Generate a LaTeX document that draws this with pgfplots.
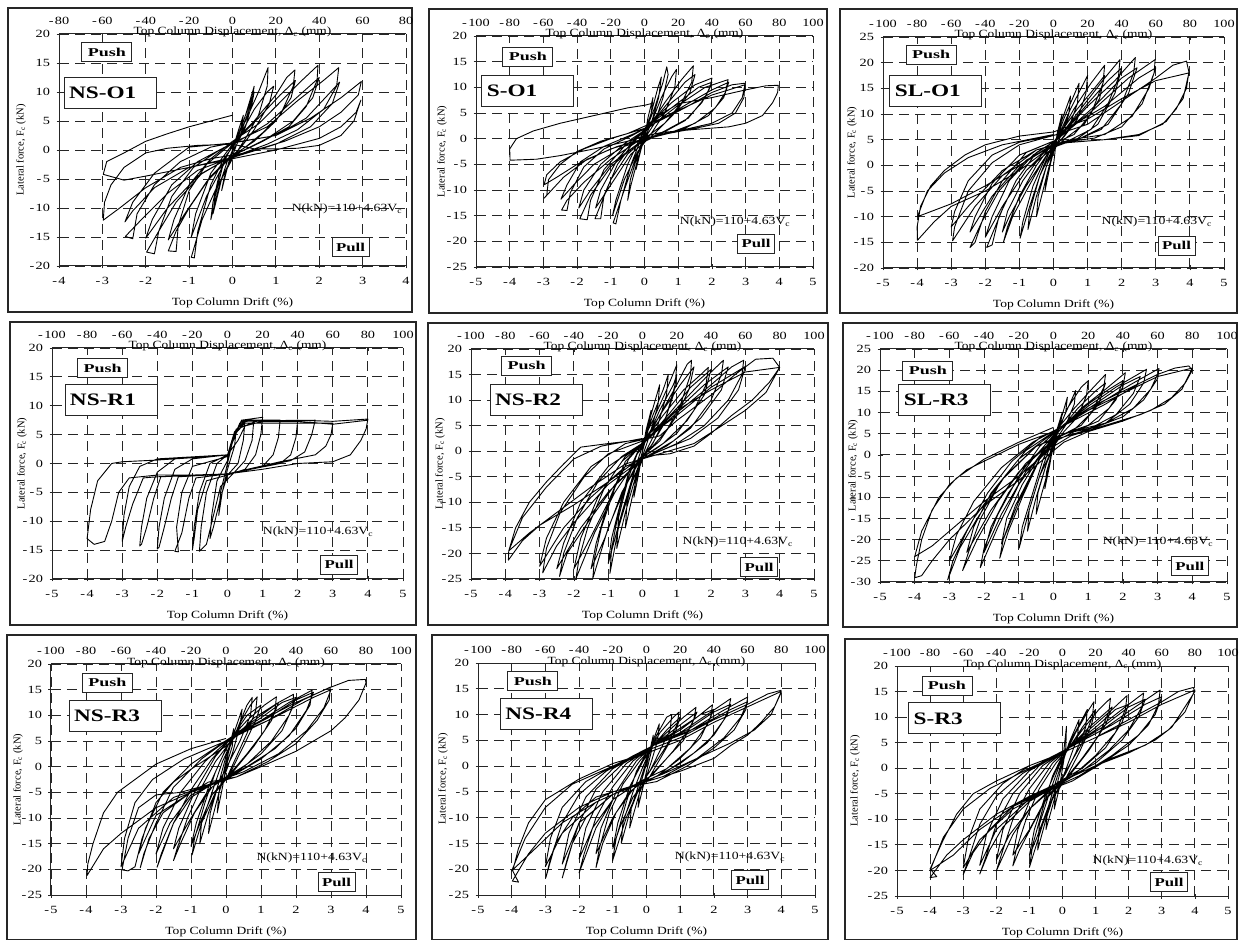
\documentclass[border=0pt]{standalone}
\usepackage{pgfplots}
\pgfplotsset{compat=1.18}
\usepackage{fontspec}
\setmainfont{Liberation Serif}
\newfontfamily\tickfont[FakeStretch=1.3]{Liberation Serif}
\usepackage{graphicx}
\newcommand\m{-\hspace{1.4pt}}
\newcommand\hs[2]{\scalebox{#1}[1]{#2}}
\pgfplotsset{
 mainax/.style={scale only axis, enlargelimits=false, anchor=south west,
   axis x line*=bottom, axis y line*=left,
   axis line style={-, line width=1pt, black!85},
   grid=major, major grid style={black!85, line width=0.9pt, dash pattern=on 10pt off 6pt},
   tick align=center, major tick length=5pt, tick style={black!85, line width=0.8pt},
   tick label style={font=\tickfont\fontsize{11}{12}\selectfont},
   xticklabel style={yshift=-5pt}, yticklabel style={xshift=-3pt},
   every axis plot post/.append style={black, line width=0.9pt, mark=none, line join=round}},
 topax/.style={scale only axis, enlargelimits=false, clip=false, anchor=south west,
   axis x line*=top, axis y line=none, ymin=0, ymax=1,
   axis line style={-, line width=1pt, black!85},
   tick align=inside, major tick length=3pt, tick style={black!85, line width=0.8pt},
   tick label style={font=\tickfont\fontsize{11}{12}\selectfont},
   xticklabel style={yshift=6pt}},
 xA/.style={xtick={-4,-3,...,4}, xticklabels={\m4,\m3,\m2,\m1,0,1,2,3,4}},
 xB/.style={xtick={-5,-4,...,5}, xticklabels={\m5,\m4,\m3,\m2,\m1,0,1,2,3,4,5}},
 tA/.style={xtick={-80,-60,...,80}, xticklabels={\m80,\m60,\m40,\m20,0,20,40,60,80}},
 tB/.style={xtick={-100,-80,...,100}, xticklabels={\m100,\m80,\m60,\m40,\m20,0,20,40,60,80,100}},
 yP/.style={ytick={-20,-15,...,20}, yticklabels={\m20,\m15,\m10,\m5,0,5,10,15,20}},
 yQ/.style={ytick={-25,-20,...,20}, yticklabels={\m25,\m20,\m15,\m10,\m5,0,5,10,15,20}},
 yR/.style={ytick={-20,-15,...,25}, yticklabels={\m20,\m15,\m10,\m5,0,5,10,15,20,25}},
 yS/.style={ytick={-30,-25,...,25}, yticklabels={\m30,\m25,\m20,\m15,\m10,\m5,0,5,10,15,20,25}},
}
\tikzset{
 pushbox/.style={draw=black!85, line width=0.9pt, fill=white, minimum width=50pt, minimum height=19pt, inner sep=0pt},
 pullbox/.style={draw=black!85, line width=0.9pt, fill=white, minimum width=37pt, minimum height=19pt, inner sep=0pt},
 namebox/.style={draw=black!85, line width=0.9pt, fill=white, minimum width=92pt, minimum height=31pt, inner sep=0pt},
 frame/.style={draw=black!85, line width=1.2pt},
}
\newcommand\deco[6]{%
 \node[pushbox] at (rel axis cs:#1) {\hs{1.5}{\fontsize{12}{13}\selectfont\bfseries Push}};
 \node[namebox] at (rel axis cs:#2) {\makebox[82pt][l]{\hs{1.33}{\fontsize{17.5}{18}\selectfont\bfseries #5}}};
 \node at (rel axis cs:#3) {\hs{1.25}{\fontsize{11}{12}\selectfont N(kN)=110+4.63V\textsubscript{c}}};
 \node[pullbox] at (rel axis cs:#4) {\hs{1.4}{\fontsize{12}{13}\selectfont\bfseries Pull}};
 \node[anchor=base] at ([yshift=-1pt]rel axis cs:0.5,1) {\hs{1.22}{\fontsize{11}{12}\selectfont Top Column Displacement, Δ\textsubscript{c} (mm)}};
 \node at ([yshift=-37pt]rel axis cs:0.5,0) {\hs{1.23}{\fontsize{11}{12}\selectfont Top Column Drift (\%)}};
 \node[rotate=90] at ([xshift=-#6pt]rel axis cs:0,0.5) {\fontsize{10.5}{11}\selectfont Lateral force, F\textsubscript{c} (kN)};
}
\begin{document}
\begin{tikzpicture}[x=1pt,y=1pt]
\path[use as bounding box] (0,0) rectangle (1239,940);
\draw[frame] (8,628) rectangle (412,932);
\draw[frame] (429,627) rectangle (827,931);
\draw[frame] (840,627) rectangle (1237,931);
\draw[frame] (10,315) rectangle (416,618);
\draw[frame] (428,315) rectangle (828,617);
\draw[frame] (843,313) rectangle (1237,617);
\draw[frame] (7,0.6) rectangle (416,305);
\draw[frame] (432,0.6) rectangle (828,305);
\draw[frame] (845,0.6) rectangle (1237,301);

% ---------- Panel 1: NS-O1 ----------
\begin{axis}[mainax, at={(59pt,674pt)}, width=347pt, height=232pt, xmin=-4, xmax=4, ymin=-20, ymax=20, xA, yP]
\addplot coordinates {(0,0) (0.12,3) (0.25,6) (0.2,4) (0.05,1) (-0.05,-1) (-0.15,-4) (-0.25,-7) (-0.2,-5) (-0.05,-1.5) (0.05,1)
(0.25,5) (0.5,10) (0.45,8) (0.3,4) (0.1,1) (-0.1,-1.5) (-0.3,-6) (-0.5,-12) (-0.45,-9) (-0.3,-4) (-0.1,-0.5) (0.1,1.5)
(0.3,6) (0.5,11) (0.45,8.5) (0.2,3) (0,-1) (-0.25,-5) (-0.45,-11) (-0.4,-8) (-0.2,-2) (0.05,1.5)
(0.3,5) (0.6,10) (0.82,14.2) (0.8,11) (0.6,6) (0.3,2) (0,-1.5) (-0.4,-7) (-0.7,-12) (-0.95,-18.5) (-0.88,-18.6) (-0.8,-14) (-0.5,-6) (-0.2,-1.5) (0.1,1.5)
(0.5,7) (0.8,10) (0.95,11) (0.85,8) (0.5,3.5) (0.2,0.5) (-0.2,-2.5) (-0.6,-8) (-0.95,-15) (-0.85,-11) (-0.5,-4) (-0.2,-1) (0.1,2)
(0.5,5) (1,9.5) (1.25,12.5) (1.44,13.8) (1.4,11) (1.1,6) (0.7,3) (0.3,0.5) (-0.1,-1.5) (-0.5,-4.5) (-1,-10) (-1.3,-14) (-1.48,-17.4) (-1.3,-17.5) (-1.25,-13) (-1,-7) (-0.6,-2.5) (-0.2,0) (0.1,1.8)
(0.6,5.5) (1.1,9.5) (1.45,12) (1.35,9) (1,5) (0.5,1.5) (0,-1) (-0.6,-5.5) (-1.1,-11) (-1.48,-15.5) (-1.35,-12) (-1,-6) (-0.5,-1.5) (0,1.5)
(0.6,4.5) (1.2,9) (1.6,12) (1.97,14.6) (1.95,12) (1.7,7.5) (1.3,4) (0.7,1.5) (0,-1) (-0.7,-4) (-1.3,-9) (-1.7,-14) (-1.98,-17.6) (-1.8,-17.9) (-1.7,-14) (-1.4,-8) (-0.9,-3) (-0.3,0) (0.2,1.8)
(0.8,4.5) (1.4,8.5) (2,12.5) (1.85,9) (1.4,5) (0.8,2) (0,-1) (-0.8,-4.5) (-1.5,-10) (-2,-15.2) (-1.85,-12) (-1.4,-6) (-0.8,-2) (0,1.2)
(0.8,4) (1.5,8.5) (2.1,12) (2.45,14.2) (2.4,11) (2.1,7) (1.5,3.5) (0.8,1) (0,-1.2) (-0.8,-3.5) (-1.5,-7.5) (-2.1,-12) (-2.47,-14.9) (-2.3,-15.3) (-2.2,-11) (-1.8,-6) (-1.2,-2) (-0.5,0.5) (0.2,1.5)
(1,2.5) (1.7,5.5) (2.2,9.5) (2.47,11.7) (2.3,8) (1.8,4) (1,1) (0,-1.3) (-1,-3) (-1.8,-6.5) (-2.3,-10.5) (-2.48,-12.4) (-2.3,-9) (-1.8,-4) (-1,0.5) (0,1.2)
(1,2.5) (1.8,5.5) (2.5,9) (2.97,11.8) (2.9,9.5) (2.5,6.5) (2,4) (1.2,1.5) (0.3,-0.5) (-0.5,-1.5) (-1.2,-3) (-2,-6.5) (-2.6,-10) (-2.98,-12.1) (-2.95,-9) (-2.8,-6) (-2.5,-3) (-2,-0.5) (-1.5,0.3) (-0.8,0.8) (0,1)
(0.5,0.2) (1,0.2) (1.5,0.3) (2,0.8) (2.5,2.5) (2.8,5) (2.96,8.6) (2.85,6.5) (2.5,4) (2,2) (1,0) (0,-1.5) (-1,-3) (-2,-4.5) (-2.5,-5.2) (-2.98,-4.2) (-2.9,-2) (-2.5,-0.5) (-2,1.5) (-1.5,2.8) (-1,4) (-0.5,5) (0,6)};
\end{axis}
\begin{axis}[topax, at={(59pt,674pt)}, width=347pt, height=232pt, xmin=-80, xmax=80, tA]
\deco{0.138,0.922}{0.147,0.748}{0.83,0.246}{0.84,0.082}{NS-O1}{38}
\end{axis}

% ---------- Panel 2: S-O1 ----------
\begin{axis}[mainax, at={(476pt,673pt)}, width=337pt, height=231pt, xmin=-5, xmax=5, ymin=-25, ymax=20, xB, yQ]
\addplot coordinates {(0,0) (0.1,4) (0.25,8) (0.2,5) (0.05,1.5) (-0.1,-2) (-0.25,-6) (-0.2,-3) (0,1)
(0.2,5) (0.4,10) (0.5,12) (0.42,8) (0.2,3) (0,0) (-0.2,-4) (-0.4,-9) (-0.5,-12) (-0.42,-8) (-0.2,-3) (0,1)
(0.3,6) (0.55,11) (0.66,14) (0.7,12.5) (0.55,8) (0.3,3) (0,0) (-0.3,-4.5) (-0.6,-10) (-0.93,-16.4) (-0.85,-16.6) (-0.7,-12) (-0.4,-5) (-0.1,0) (0.2,3)
(0.5,8) (0.8,12) (0.95,13.5) (0.9,10) (0.6,5) (0.2,1) (-0.2,-2.5) (-0.6,-8) (-0.95,-15) (-0.85,-12) (-0.5,-5) (-0.1,0.5) (0.2,3)
(0.6,7) (1.1,11.5) (1.45,14.2) (1.4,11) (1.1,7) (0.6,3) (0.1,0.5) (-0.5,-3) (-1,-8) (-1.47,-15.6) (-1.3,-15.6) (-1.2,-11) (-0.8,-5) (-0.3,-0.5) (0.2,3)
(0.7,7) (1.2,11) (1.5,12.5) (1.35,9) (0.9,5) (0.3,1) (-0.4,-3) (-1,-9) (-1.45,-13.5) (-1.3,-10) (-0.8,-4) (-0.2,0.5) (0.2,3)
(0.8,7) (1.5,10.5) (2,11.8) (1.95,10) (1.7,7) (1.2,3.5) (0.5,1) (-0.3,-1.5) (-1,-5.5) (-1.6,-11) (-1.92,-15.6) (-1.7,-15.8) (-1.6,-12) (-1.2,-6) (-0.6,-1.5) (0,1.5) (0.3,3.5)
(1,7) (1.6,10) (2,11) (1.8,8) (1.3,4) (0.6,1.5) (-0.2,-1) (-1,-5) (-1.6,-10) (-1.95,-13.5) (-1.8,-10) (-1.3,-5) (-0.6,-1) (0.2,2.5)
(1,6.5) (1.8,10) (2.48,11.5) (2.4,9) (2.1,6) (1.5,3) (0.7,1) (-0.2,-0.5) (-1,-4) (-1.8,-8.5) (-2.3,-12) (-2.46,-13.9) (-2.3,-14) (-2.2,-10.5) (-1.8,-5.5) (-1.2,-2) (-0.4,0.5) (0.3,3)
(1.2,6.5) (2,9.5) (2.5,11) (2.35,8) (1.9,4.5) (1.2,2) (0.3,0.5) (-0.6,-1.5) (-1.5,-5) (-2.1,-9) (-2.48,-11.8) (-2.3,-9) (-1.9,-4.5) (-1.2,-1.5) (-0.3,1) (0.3,3)
(1.2,6) (2,9) (2.6,10.5) (2.98,10.8) (2.95,8) (2.7,5) (2.2,3) (1.5,2) (0.7,1) (0,0) (-0.8,-1.5) (-1.7,-4) (-2.4,-7.5) (-2.98,-11.6) (-2.9,-11) (-2.85,-8) (-2.5,-5) (-2,-2.5) (-1.3,-0.5) (-0.5,1) (0.2,3)
(1,5.5) (2,8.5) (2.5,9.5) (2.98,10.5) (2.9,8) (2.6,5) (2,3) (1,1.5) (0,0) (-1,-2) (-2,-5) (-2.6,-7.5) (-2.98,-9) (-2.9,-7) (-2.5,-4.5) (-1.8,-2) (-1,0) (0,2) (0.3,4)
(1,6.8) (2,8) (3,9.5) (3.6,10.3) (3.97,10.4) (3.95,9) (3.8,7) (3.5,4.5) (3,3) (2.5,2.3) (1.5,1.8) (0.5,1.2) (0,0.5) (-0.5,-0.5) (-1.5,-2) (-2.5,-3.3) (-3.2,-4) (-3.99,-4.2) (-4,-2) (-3.8,0) (-3.3,1.5) (-2.5,3) (-1.5,4.5) (-0.5,6) (0,6.5) (0.3,7)};
\end{axis}
\begin{axis}[topax, at={(476pt,673pt)}, width=337pt, height=231pt, xmin=-100, xmax=100, tB]
\deco{0.154,0.911}{0.154,0.764}{0.769,0.195}{0.831,0.10}{S-O1}{34}
\end{axis}

% ---------- Panel 3: SL-O1 ----------
\begin{axis}[mainax, at={(883pt,672pt)}, width=341pt, height=231pt, xmin=-5, xmax=5, ymin=-20, ymax=25, xB, yR]
\addplot coordinates {(0,0) (0.1,6) (0.25,10) (0.2,7) (0.05,4) (-0.1,0) (-0.25,-5) (-0.2,-2) (0,3)
(0.2,8) (0.5,13.5) (0.45,10) (0.2,5.5) (0,3) (-0.2,-2) (-0.5,-10) (-0.45,-6) (-0.2,0) (0,3.5)
(0.3,9) (0.75,16) (0.7,12) (0.4,6.5) (0.1,4) (-0.2,0) (-0.5,-6) (-0.75,-12.5) (-0.7,-9) (-0.4,-2) (-0.1,3) (0.1,5)
(0.5,11) (1,17.5) (0.95,14) (0.7,9) (0.3,5.5) (0,3.5) (-0.4,-2) (-0.7,-8) (-0.98,-14.2) (-0.9,-11) (-0.6,-4) (-0.2,2) (0.1,5)
(0.6,11) (1.1,16) (1.5,19.5) (1.45,16) (1.1,10) (0.6,6) (0.1,4.5) (-0.3,1) (-0.8,-5) (-1.2,-10) (-1.47,-15) (-1.35,-12) (-1,-6) (-0.5,0) (0,4.5)
(0.7,11) (1.2,15) (1.5,17.5) (1.35,13) (0.9,8) (0.4,5.5) (-0.2,2) (-0.8,-4) (-1.3,-10) (-1.5,-13) (-1.35,-9) (-0.9,-3) (-0.3,2.5) (0.1,5)
(0.8,11) (1.5,17) (1.95,20.6) (1.9,17) (1.6,12) (1.1,7) (0.5,5) (-0.2,3) (-0.8,-1) (-1.4,-7) (-1.96,-16) (-1.8,-15.5) (-1.6,-10) (-1.1,-3) (-0.5,2.5) (0.1,5)
(1,12) (1.6,16.5) (2,19) (1.8,14) (1.3,8) (0.7,5.2) (0,3.5) (-0.8,-1) (-1.5,-8) (-2,-14) (-1.8,-10) (-1.3,-3) (-0.6,2) (0.1,5)
(1,11.5) (1.8,16.5) (2.4,21) (2.35,18) (2,12) (1.4,7) (0.7,5) (0,4) (-0.8,1) (-1.6,-5) (-2.1,-11) (-2.45,-16) (-2.3,-15) (-2,-9) (-1.5,-3) (-0.8,2.5) (0.1,5)
(1.2,11.5) (2,17) (2.45,19) (2.2,14) (1.6,8) (0.8,5.3) (0,4) (-1,0) (-1.8,-6) (-2.45,-13) (-2.3,-10) (-1.8,-3.5) (-1,2) (0.1,5)
(1.2,11) (2.2,17) (2.98,20.6) (2.95,18) (2.6,12) (2,7.5) (1.2,5.3) (0.3,4.5) (-0.5,3) (-1.5,-2) (-2.3,-8) (-2.96,-14.7) (-2.9,-12) (-2.5,-5) (-1.8,0.5) (-1,4) (0.1,6)
(1.5,11.5) (2.5,17) (3,19) (2.8,15) (2.3,9.5) (1.5,6) (0.5,5) (-0.5,3) (-1.5,-1) (-2.5,-8) (-3,-12) (-2.9,-9) (-2.5,-3) (-1.8,2) (-1,4.5) (0.1,6)
(1,8) (2,12.5) (3,17) (3.5,19.5) (3.9,20.3) (3.97,18.2) (3.9,15) (3.6,11) (3.2,8) (2.5,6) (1.5,5) (0.5,4.5) (0,4) (-1,-1) (-2,-5) (-3,-8) (-3.5,-11) (-3.99,-14.6) (-4,-12) (-3.9,-8) (-3.6,-4) (-3.2,-1) (-2.6,2) (-2,4) (-1,5.7) (0,6.5)
(1,9) (2,13) (3,16.5) (3.97,18) (3.8,13) (3.3,8.5) (2.5,5.8) (1.5,5) (0,4.2) (-1,0) (-2,-4) (-3,-7.5) (-3.99,-10) (-3.7,-5) (-3.2,-1.5) (-2.5,1.5) (-1.5,4) (0,6)};
\end{axis}
\begin{axis}[topax, at={(883pt,672pt)}, width=341pt, height=231pt, xmin=-100, xmax=100, tB]
\deco{0.141,0.923}{0.155,0.768}{0.803,0.199}{0.861,0.097}{SL-O1}{31}
\end{axis}

% ---------- Panel 4: NS-R1 ----------
\begin{axis}[mainax, at={(52pt,361pt)}, width=351pt, height=231pt, xmin=-5, xmax=5, ymin=-20, ymax=20, xB, yP]
\addplot coordinates {(0,0) (0.1,3) (0.25,6) (0.2,3) (0,-1) (-0.15,-5) (-0.25,-9) (-0.2,-5) (0,0)
(0.15,4) (0.35,7) (0.5,7.5) (0.45,4) (0.3,0) (0,-2) (-0.2,-6) (-0.4,-11) (-0.5,-13) (-0.45,-9) (-0.3,-3) (0,0.5)
(0.2,5) (0.4,7.3) (0.75,7.5) (0.7,4) (0.5,0.5) (0.2,-1.5) (-0.2,-4) (-0.4,-9) (-0.6,-14) (-0.8,-15.2) (-0.75,-11) (-0.6,-5) (-0.3,0) (0,1.5)
(0.2,5) (0.4,7.5) (1,8) (0.95,5) (0.8,1.5) (0.5,-1) (0,-2) (-0.6,-3) (-0.85,-8) (-0.95,-13) (-1,-15) (-0.95,-11) (-0.8,-5) (-0.5,0) (0,1.5)
(0.2,5.5) (0.5,7.5) (1.5,7.5) (1.45,4.5) (1.3,1.5) (1,-0.5) (0,-1.8) (-0.9,-2.5) (-1.1,-6) (-1.3,-12) (-1.5,-15.2) (-1.4,-15.3) (-1.45,-11) (-1.3,-5) (-1,-0.5) (0,1.2)
(0.2,5) (0.5,7.3) (2,7.5) (1.95,4.5) (1.8,1.5) (1.5,0) (0,-1.8) (-1.4,-2.3) (-1.6,-6) (-1.8,-11) (-1.95,-14.5) (-2,-14.8) (-1.95,-11) (-1.8,-6) (-1.5,-1) (-1,0.8) (0,1.5)
(0.2,5) (0.5,7.3) (2.5,7.5) (2.4,5) (2.2,2) (1.8,0.5) (0,-1.8) (-1.9,-2.3) (-2.1,-6) (-2.3,-11) (-2.45,-14) (-2.5,-14.3) (-2.45,-11) (-2.3,-6) (-2,-1.5) (-1.5,0.8) (0,1.5)
(0.2,5) (0.5,7) (2.5,7) (3,7) (2.95,5) (2.8,3) (2.5,1.5) (1.5,0.3) (0,-1.8) (-2,-2.3) (-2.4,-2.5) (-2.7,-7) (-2.9,-11) (-3,-13.5) (-2.95,-9) (-2.8,-4) (-2.5,-0.5) (-2,0.8) (0,1.5)
(0.3,6) (0.8,7.3) (2,7.5) (3,7.3) (3.5,7.5) (4,7.7) (3.95,6) (3.8,4) (3.5,1.5) (3,0.3) (2,0) (1,-1) (0,-1.8) (-1,-2) (-2,-2) (-2.8,-2.5) (-3.1,-5) (-3.3,-10) (-3.5,-13.5) (-3.8,-14) (-4,-13) (-3.9,-8) (-3.7,-3) (-3.3,0) (-3,0.3) (-2,0.6) (-1,1) (0,1.5) (0.3,4) (0.5,6.5) (1,7.3) (2,7.3) (3,6.8) (4,7.5)};
\end{axis}
\begin{axis}[topax, at={(52pt,361pt)}, width=351pt, height=231pt, xmin=-100, xmax=100, tB]
\deco{0.144,0.913}{0.168,0.775}{0.758,0.203}{0.818,0.061}{NS-R1}{30}
\end{axis}

% ---------- Panel 5: NS-R2 ----------
\begin{axis}[mainax, at={(471pt,361pt)}, width=343pt, height=230pt, xmin=-5, xmax=5, ymin=-25, ymax=20, xB, yQ]
\addplot coordinates {(0,0) (0.1,4) (0.25,8) (0.2,5) (0,0) (-0.1,-4) (-0.25,-9) (-0.2,-5) (0,0)
(0.2,6) (0.5,13) (0.45,9) (0.2,3) (0,-1) (-0.2,-6) (-0.5,-15) (-0.45,-10) (-0.2,-3) (0,1)
(0.3,7) (0.6,12) (0.75,15) (0.7,11) (0.4,4) (0.1,0) (-0.2,-5) (-0.5,-12) (-0.75,-19) (-0.7,-13) (-0.4,-5) (-0.1,0.5)
(0.3,6) (0.7,12) (1,16.9) (0.95,13) (0.7,7) (0.3,1.5) (0,-1) (-0.3,-6) (-0.7,-15) (-0.95,-23.9) (-0.9,-19) (-0.7,-12) (-0.4,-4) (-0.1,0.5) (0.1,2)
(0.5,8) (0.9,13) (1,15) (0.9,11) (0.6,5) (0.2,0.5) (-0.2,-3) (-0.6,-12) (-1,-22) (-0.9,-17) (-0.6,-9) (-0.2,-1) (0.1,2)
(0.5,7) (1,13) (1.3,17) (1.43,17.8) (1.4,15) (1.1,9) (0.7,4) (0.3,1) (-0.1,-1.5) (-0.5,-7) (-1,-15) (-1.45,-24.9) (-1.4,-21) (-1.2,-15) (-0.8,-7) (-0.4,-1.5) (0,1.5)
(0.6,8) (1.1,13) (1.5,16.5) (1.35,12) (1,7) (0.5,2) (0,-1) (-0.6,-8) (-1.1,-17) (-1.5,-23) (-1.35,-18) (-1,-10) (-0.5,-2) (0,1.5)
(0.6,7) (1.2,12) (1.7,15) (1.92,16.4) (1.85,13) (1.5,8) (1,3.5) (0.4,0.5) (-0.2,-2) (-0.8,-8) (-1.4,-16) (-1.94,-24.9) (-1.85,-21) (-1.6,-15) (-1.1,-7) (-0.5,-1) (0.1,2)
(0.8,7.5) (1.4,12.5) (2,16) (1.8,11) (1.3,6) (0.6,1.5) (-0.2,-2) (-1,-10) (-1.6,-18) (-2,-23) (-1.8,-17) (-1.3,-9) (-0.6,-2) (0.1,2)
(0.8,7) (1.5,12) (2,15.5) (2.36,17.8) (2.3,15) (2,10) (1.4,4.5) (0.7,1) (0,-1.5) (-0.8,-6.5) (-1.6,-14) (-2.2,-20) (-2.42,-24.5) (-2.3,-20) (-1.9,-13) (-1.3,-6) (-0.6,-1) (0.1,2)
(1,8) (1.8,13) (2.5,16.5) (2.3,12) (1.7,6.5) (0.9,2) (0,-1.5) (-1,-8) (-1.8,-15) (-2.5,-23) (-2.3,-18) (-1.8,-10) (-1,-3) (0.1,2)
(1,7.5) (2,13) (2.6,16.5) (2.95,17.8) (2.9,15) (2.5,10) (1.8,5) (1,1.5) (0,-1.5) (-1,-6.5) (-2,-14) (-2.5,-18.5) (-2.91,-23.8) (-2.8,-19) (-2.4,-12) (-1.7,-5) (-1,-0.5) (0,2)
(1,7) (2,12.5) (3,16.6) (2.8,12) (2.2,6.5) (1.4,2.5) (0.5,0) (-0.5,-3) (-1.5,-9) (-2.3,-15) (-3,-22.5) (-2.8,-17) (-2.3,-10) (-1.5,-3) (-0.5,1.5)
(0.5,3) (1,6) (2,11) (2.7,15) (3.3,18) (3.8,18.2) (4,16.4) (3.7,13.5) (3.2,10) (2.6,7) (2,3.5) (1.5,1) (0.8,-0.5) (0,-1) (-1,-6) (-2,-10.5) (-3,-14.5) (-3.5,-17.5) (-3.91,-21.3) (-3.9,-19.5) (-3.7,-15) (-3.3,-10) (-2.8,-6) (-2.3,-2.5) (-1.8,0.8) (-1,1.5) (0,2.3)
(1,8) (2,12) (3,15.5) (4,16.4) (3.6,11.5) (3,8) (2.2,4.5) (1.5,1.5) (0.5,-0.5) (-0.5,-2.5) (-1.5,-7) (-2.5,-12) (-3.3,-16) (-3.9,-19.5) (-3.5,-13) (-2.8,-7) (-2,-1.5) (-1.2,1) (0,2.5)};
\end{axis}
\begin{axis}[topax, at={(471pt,361pt)}, width=343pt, height=230pt, xmin=-100, xmax=100, tB]
\deco{0.162,0.928}{0.19,0.778}{0.778,0.161}{0.84,0.052}{NS-R2}{31}
\end{axis}

% ---------- Panel 6: SL-R3 ----------
\begin{axis}[mainax, at={(880pt,358pt)}, width=347pt, height=233pt, xmin=-5, xmax=5, ymin=-30, ymax=25, xB, yS]
\addplot coordinates {(0,0) (0.1,6) (0.25,10) (0.2,7) (0,3) (-0.1,-2) (-0.25,-8) (-0.2,-4) (0,2)
(0.2,8) (0.4,13.6) (0.35,10) (0.15,6) (0,2) (-0.2,-5) (-0.5,-14) (-0.45,-9) (-0.2,-2) (0,3)
(0.3,9) (0.64,15.2) (0.6,12) (0.35,7) (0.1,4) (-0.2,-2) (-0.5,-10) (-0.75,-18) (-0.7,-13) (-0.4,-5) (-0.1,2) (0.1,5)
(0.4,11) (0.8,16) (1,17.5) (0.95,14) (0.7,9) (0.3,5.5) (0,2) (-0.4,-5) (-0.7,-13) (-0.99,-22) (-0.9,-17) (-0.6,-9) (-0.3,-1) (0,4) (0.1,6)
(0.6,11) (1.1,15.5) (1.5,19) (1.45,16) (1.1,10) (0.6,6) (0.1,4) (-0.4,-1) (-0.9,-10) (-1.3,-18) (-1.55,-24.4) (-1.45,-20) (-1.1,-12) (-0.6,-4) (-0.1,3.5) (0.2,6)
(0.7,11) (1.2,15) (1.5,17) (1.3,12) (0.8,7) (0.2,4.5) (-0.4,-1) (-1,-11) (-1.5,-21) (-1.35,-15) (-0.9,-7) (-0.3,1) (0.2,6)
(0.8,11) (1.5,15.5) (2.07,19.4) (2,16) (1.6,11) (1,7) (0.3,5) (-0.3,1) (-1,-7) (-1.6,-17) (-2.11,-26.6) (-2,-22) (-1.6,-14) (-1,-5) (-0.4,2) (0.2,6.5)
(1,12) (1.6,15.5) (2,17.5) (1.8,13) (1.3,8) (0.6,5.5) (0,3) (-0.8,-4) (-1.5,-14) (-2,-23) (-1.8,-17) (-1.3,-9) (-0.6,-1) (0.2,6.5)
(1,11.5) (1.8,16) (2.68,20.2) (2.6,17) (2.2,12) (1.5,7.5) (0.8,5.5) (0,3.5) (-0.8,-2) (-1.6,-11) (-2.2,-20) (-2.62,-27.3) (-2.45,-23) (-2.1,-15) (-1.5,-6) (-0.8,1) (0.2,6.5)
(1.2,12) (2,16.5) (2.5,18.5) (2.3,14.5) (1.8,9.5) (1,6) (0,3.5) (-1,-4) (-1.8,-13) (-2.5,-23) (-2.3,-17) (-1.8,-9) (-1,-1) (0.2,6.5)
(1.2,11.5) (2.2,16.5) (3.04,20.4) (3,18) (2.6,13) (2,9) (1.2,6.5) (0.3,5) (-0.5,2) (-1.4,-5) (-2.2,-15) (-2.7,-22) (-3.05,-29.5) (-2.9,-25) (-2.5,-18) (-1.9,-9) (-1.2,-1.5) (-0.4,4) (0.2,6.5)
(1.5,12) (2.5,17) (3,19) (2.8,15.5) (2.3,11) (1.5,7.5) (0.5,5.5) (-0.5,2) (-1.5,-6) (-2.3,-15) (-3,-25) (-2.8,-19) (-2.3,-11) (-1.5,-3) (-0.6,3) (0.2,6.5)
(1,11) (2,15) (3,19) (3.5,20.5) (3.9,21) (4,20) (3.8,17) (3.4,13.5) (2.8,10.5) (2,8) (1,5.5) (0.3,3) (0,1) (-1,-6) (-2,-12) (-3,-20) (-3.5,-25) (-3.8,-28.5) (-4,-29) (-3.95,-26) (-3.8,-20) (-3.5,-13) (-3,-7) (-2.5,-3.5) (-2,-1.5) (-1,2.5) (0,5.5)
(1,10.5) (2,14.5) (3,18.5) (4,20.5) (3.7,15.5) (3.2,12) (2.5,9.5) (1.5,7) (0.5,4.5) (0,2) (-1,-5) (-2,-11) (-3,-18) (-3.5,-21.5) (-4,-24) (-3.8,-18) (-3.3,-10) (-2.8,-5.5) (-2,-1) (-1,3) (0,6.5)};
\end{axis}
\begin{axis}[topax, at={(880pt,358pt)}, width=347pt, height=233pt, xmin=-100, xmax=100, tB]
\deco{0.138,0.906}{0.187,0.781}{0.801,0.172}{0.893,0.067}{SL-R3}{27}
\end{axis}

% ---------- Panel 7: NS-R3 ----------
\begin{axis}[mainax, at={(51pt,45pt)}, width=350pt, height=231pt, xmin=-5, xmax=5, ymin=-25, ymax=20, xB, yQ]
\addplot coordinates {(0,0) (0.1,4) (0.22,7.4) (0.18,4) (0,0) (-0.1,-4) (-0.25,-9) (-0.2,-5) (0,1)
(0.2,6) (0.46,11.2) (0.4,8) (0.2,3) (0,-1) (-0.2,-5) (-0.5,-13) (-0.45,-9) (-0.2,-3) (0,2)
(0.3,7) (0.6,12) (0.75,13.5) (0.7,10) (0.4,5) (0.1,1) (-0.2,-3) (-0.5,-9) (-0.75,-15) (-0.7,-11) (-0.4,-5) (-0.1,1) (0.1,4)
(0.4,8.5) (0.7,12) (0.89,13.6) (0.85,11) (0.6,6.5) (0.3,2) (0,-2.5) (-0.3,-5) (-0.7,-11) (-0.97,-17.2) (-0.9,-14) (-0.6,-7) (-0.3,-1) (0,3.5) (0.2,6)
(0.6,10) (1,12) (0.85,9) (0.5,4) (0.1,-1.5) (-0.4,-5.5) (-0.8,-12) (-1,-15.5) (-0.85,-11) (-0.5,-4) (-0.1,2) (0.2,6)
(0.6,9) (1.1,12) (1.44,13.6) (1.4,11) (1.1,7) (0.6,2.5) (0.1,-1.5) (-0.4,-4) (-0.9,-9) (-1.3,-15) (-1.5,-18.3) (-1.4,-16) (-1.1,-10) (-0.7,-4) (-0.3,1) (0.2,5.5)
(0.8,9.5) (1.5,12.5) (1.3,9) (0.8,4) (0.2,-1) (-0.5,-4.5) (-1,-10) (-1.5,-16) (-1.35,-12) (-0.9,-5) (-0.3,2) (0.2,6)
(0.8,9) (1.5,12.5) (1.93,14.1) (1.9,11.5) (1.6,7) (1,2.5) (0.3,-1) (-0.3,-3) (-1,-6) (-1.5,-11) (-1.97,-19.6) (-1.85,-17) (-1.5,-11) (-1,-4.5) (-0.4,1.5) (0.2,6)
(1,9.5) (1.6,12.5) (2,13.5) (1.8,10) (1.3,5) (0.6,0.5) (-0.1,-2.5) (-1,-5.5) (-1.6,-11) (-2,-17) (-1.8,-12) (-1.3,-5) (-0.6,1) (0.2,6)
(1,9) (1.8,12.5) (2.46,14.9) (2.4,12) (2,7.5) (1.4,3.5) (0.6,0) (-0.1,-2.5) (-1,-5) (-1.8,-9) (-2.2,-14) (-2.45,-19.7) (-2.35,-17) (-2,-11) (-1.5,-4) (-0.7,1.5) (0.2,6)
(1.2,9.5) (2,13) (2.5,14.5) (2.3,11) (1.8,6) (1,1.5) (0,-2.5) (-1,-5) (-2,-9.5) (-2.5,-17) (-2.3,-12) (-1.8,-5) (-1,0.5) (0.2,6)
(1.2,9) (2.2,13) (2.98,15.5) (2.95,13) (2.6,9) (2,4.5) (1.2,1) (0.3,-2) (-0.5,-3.5) (-1.3,-5) (-2,-5.5) (-2.5,-8) (-2.8,-14) (-2.97,-20.1) (-2.8,-20.3) (-2.6,-19.5) (-2.4,-14) (-2,-7) (-1.5,-3) (-1,-0.5) (0,4) (0.3,6)
(1.5,10) (2.5,13.5) (3,15) (2.8,11.5) (2.3,7) (1.5,2.5) (0.5,-1) (-0.5,-3.5) (-1.5,-6) (-2.5,-12) (-3,-19.5) (-2.9,-14) (-2.6,-7) (-2.1,-2.5) (-1.2,1.5) (0,5)
(1,9) (2,12.5) (3,15.5) (3.5,16.8) (3.98,17) (4,16.3) (3.8,13) (3.4,9.5) (3,7) (2,3) (1,0) (0.3,-2) (-0.5,-3) (-1,-5) (-2,-8) (-3,-13) (-3.5,-16) (-3.97,-21.2) (-3.95,-19) (-3.8,-15) (-3.5,-9) (-3.1,-5) (-2.5,-2) (-2,0.5) (-1,3.5) (0,5.5)};
\end{axis}
\begin{axis}[topax, at={(51pt,45pt)}, width=350pt, height=231pt, xmin=-100, xmax=100, tB]
\deco{0.161,0.92}{0.183,0.777}{0.745,0.16}{0.816,0.056}{NS-R3}{33}
\end{axis}

% ---------- Panel 8: NS-R4 ----------
\begin{axis}[mainax, at={(478pt,45pt)}, width=337pt, height=232pt, xmin=-5, xmax=5, ymin=-25, ymax=20, xB, yQ]
\addplot coordinates {(0,0) (0.1,3) (0.2,6) (0.15,3) (0,-1) (-0.1,-4) (-0.25,-8) (-0.2,-4) (0,0.5)
(0.2,5) (0.38,8.2) (0.33,5) (0.15,1) (0,-2) (-0.2,-5) (-0.5,-12) (-0.45,-8) (-0.2,-3) (0,1)
(0.3,6) (0.6,9.5) (0.75,10) (0.7,7) (0.4,3) (0.1,-1) (-0.2,-4) (-0.5,-9) (-0.75,-15) (-0.7,-11) (-0.4,-5) (-0.1,0) (0.1,3)
(0.4,6.5) (0.8,9.5) (0.97,10.5) (0.9,8) (0.6,4) (0.2,0) (-0.2,-4) (-0.6,-10) (-1.01,-18.4) (-0.9,-14) (-0.6,-7) (-0.3,-1) (0,2.5) (0.2,4)
(0.6,7) (1,9.5) (0.85,6.5) (0.5,2.5) (0.1,-2) (-0.4,-6) (-0.8,-12) (-1,-16) (-0.85,-11) (-0.5,-4) (-0.1,1) (0.2,4)
(0.6,6.5) (1.1,9.5) (1.47,11.4) (1.4,9) (1.1,5) (0.6,1.5) (0.1,-2) (-0.4,-4.5) (-0.9,-9) (-1.3,-15) (-1.5,-19.7) (-1.4,-16) (-1.1,-9) (-0.7,-3.5) (-0.2,1) (0.2,4)
(0.8,7) (1.5,10.5) (1.3,7.5) (0.8,3) (0.2,-1.5) (-0.5,-5) (-1,-10) (-1.5,-17) (-1.35,-12) (-0.9,-5) (-0.3,1) (0.2,4)
(0.8,6.5) (1.5,9.5) (1.96,11.9) (1.9,9.5) (1.6,5.5) (1,1.5) (0.3,-2) (-0.3,-3.5) (-1,-6.5) (-1.5,-12) (-2,-20.7) (-1.85,-17) (-1.5,-10) (-1,-4) (-0.4,1) (0.2,4)
(1,7) (1.6,10) (2,11) (1.8,8) (1.3,3.5) (0.6,-0.5) (-0.2,-3) (-1,-6.5) (-1.6,-12) (-2,-18) (-1.8,-12) (-1.3,-5) (-0.6,0.5) (0.2,4)
(1,6.5) (1.8,10) (2.5,13.1) (2.4,10) (2,6) (1.4,2.5) (0.6,-1) (-0.2,-3.5) (-1,-5.5) (-1.8,-10) (-2.2,-15) (-2.5,-21.7) (-2.35,-18) (-2,-11) (-1.5,-4.5) (-0.7,0.5) (0.2,4)
(1.2,7) (2,10.5) (2.5,12) (2.3,9) (1.8,4.5) (1,0.5) (0,-3) (-1,-5.5) (-2,-11) (-2.5,-19) (-2.3,-13) (-1.8,-6) (-1,-0.5) (0.2,4)
(1.2,6.5) (2.2,10.5) (3,13.4) (2.95,11) (2.6,7) (2,3.5) (1.2,0) (0.3,-3) (-0.5,-4) (-1.5,-6) (-2.2,-10) (-2.7,-15) (-2.99,-21.7) (-2.85,-18) (-2.5,-11) (-2,-5.5) (-1.2,-1) (-0.4,2) (0.2,4)
(1.5,7.5) (2.5,11) (3,12.5) (2.8,9.5) (2.3,5.5) (1.5,1.5) (0.5,-2) (-0.5,-4) (-1.5,-7) (-2.5,-13) (-3,-19.5) (-2.85,-14) (-2.5,-8) (-1.8,-3) (-1,0) (0,3)
(1,5.5) (2,9) (3,12) (3.6,14) (3.99,14.7) (4,14.3) (3.8,11.5) (3.4,8.5) (3,6) (2.5,4) (2,1.5) (1,-1) (0,-3) (-1,-5) (-2,-8) (-3,-13) (-3.5,-17) (-3.98,-22.3) (-3.8,-22.5) (-3.97,-20.3) (-3.8,-16) (-3.5,-11) (-3,-6.5) (-2,-2.5) (-1,0.5) (0,2.5)
(1,5) (2,8.5) (3,11.5) (4,14.5) (3.7,10) (3.2,7) (2.5,4.5) (1.5,1.5) (0.5,-1.5) (-0.5,-4) (-1.5,-7) (-2.5,-11) (-3.3,-16) (-4,-20.3) (-3.6,-14) (-3,-8) (-2.2,-3.5) (-1,0) (0,2.5)};
\end{axis}
\begin{axis}[topax, at={(478pt,45pt)}, width=337pt, height=232pt, xmin=-100, xmax=100, tB]
\deco{0.163,0.922}{0.203,0.782}{0.748,0.164}{0.807,0.065}{NS-R4}{35}
\end{axis}

% ---------- Panel 9: S-R3 ----------
\begin{axis}[mainax, at={(897pt,44pt)}, width=331pt, height=230pt, xmin=-5, xmax=5, ymin=-25, ymax=20, xB, yQ]
\addplot coordinates {(0,0) (0.05,4) (0.12,8.2) (0.1,4) (0,0) (-0.1,-4) (-0.25,-8) (-0.2,-4) (0,1)
(0.2,5) (0.5,9.5) (0.45,6) (0.2,1.5) (0,-2) (-0.2,-5) (-0.5,-12) (-0.45,-8) (-0.2,-2.5) (0,1.5)
(0.3,6) (0.75,11.5) (0.7,8) (0.4,3) (0.1,-1) (-0.2,-4) (-0.5,-10) (-0.75,-16) (-0.7,-11) (-0.4,-5) (-0.1,0.5) (0.1,3)
(0.4,7) (0.8,11.5) (0.95,13) (0.9,10) (0.6,5) (0.2,0.5) (-0.2,-4) (-0.6,-11) (-1,-19.4) (-0.9,-15) (-0.6,-8) (-0.3,-1.5) (0,2.5) (0.2,4)
(0.6,8) (1,11.5) (0.85,8) (0.5,3) (0.1,-2) (-0.4,-7) (-0.8,-14) (-1,-17) (-0.85,-12) (-0.5,-5) (-0.1,1) (0.2,4)
(0.6,7.5) (1.1,11.5) (1.45,13.7) (1.4,11) (1.1,6.5) (0.6,2) (0.1,-2) (-0.4,-5) (-0.9,-11) (-1.3,-16) (-1.5,-19.1) (-1.4,-16) (-1.1,-10) (-0.7,-4) (-0.2,1) (0.2,4)
(0.8,8) (1.5,12) (1.3,8.5) (0.8,3.5) (0.2,-1.5) (-0.5,-6) (-1,-12) (-1.5,-17) (-1.35,-12) (-0.9,-5) (-0.3,1) (0.2,4)
(0.8,7.5) (1.5,11.5) (1.95,14.2) (1.9,11.5) (1.6,7) (1,2.5) (0.3,-1.5) (-0.3,-4) (-1,-8) (-1.5,-13) (-2,-20.1) (-1.85,-17) (-1.5,-10) (-1,-4) (-0.4,1) (0.2,4)
(1,8) (1.6,11.5) (2,12.5) (1.8,9) (1.3,4) (0.6,0) (-0.2,-3) (-1,-8) (-1.6,-13) (-2,-18) (-1.8,-12) (-1.3,-5) (-0.6,0.5) (0.2,4)
(1,7.5) (1.8,11.5) (2.45,14.7) (2.4,12) (2,7.5) (1.4,3.5) (0.6,-0.5) (-0.2,-3.5) (-1,-6.5) (-1.8,-11.5) (-2.2,-16) (-2.5,-20.7) (-2.35,-18) (-2,-11) (-1.5,-5) (-0.7,0.5) (0.2,4)
(1.2,8) (2,12) (2.5,13.5) (2.3,10) (1.8,5.5) (1,1) (0,-2.5) (-1,-6) (-2,-12) (-2.5,-19) (-2.3,-13) (-1.8,-6) (-1,-0.5) (0.2,4)
(1.2,7.5) (2.2,12) (2.95,15.3) (2.9,12.5) (2.6,8.5) (2,4.5) (1.2,1) (0.3,-2.5) (-0.5,-4.5) (-1.5,-7.5) (-2.2,-12) (-2.7,-16.5) (-3,-20.8) (-2.85,-18) (-2.5,-11) (-2,-5.5) (-1.2,-1) (-0.4,2) (0.2,4)
(1.5,8.5) (2.5,12.5) (3,14) (2.8,10.5) (2.3,6.5) (1.5,2.5) (0.5,-1.5) (-0.5,-4.5) (-1.5,-8) (-2.5,-14) (-3,-19.5) (-2.85,-14) (-2.5,-8) (-1.8,-3) (-1,0.5) (0,3)
(1,6) (2,9.5) (3,13) (3.5,15) (3.95,15.8) (4,15) (3.7,12) (3.3,8) (2.8,5.5) (2,3) (1,0.5) (0,-2.5) (-1,-5.5) (-2,-9) (-3,-14) (-3.5,-17) (-4,-21.4) (-3.8,-21.2) (-4,-19.7) (-3.6,-14) (-3.2,-9) (-2.7,-5) (-2,-2.5) (-1,0.5) (0,3)
(1,6) (2,9) (3,12.5) (4,15.3) (3.7,11) (3.2,7.5) (2.5,4.5) (1.5,2) (0.5,-1) (-0.5,-4) (-1.5,-7.5) (-2.5,-12) (-3.3,-17) (-4,-20) (-3.6,-13.5) (-3,-8) (-2.2,-4) (-1,0) (0,3)};
\end{axis}
\begin{axis}[topax, at={(897pt,44pt)}, width=331pt, height=230pt, xmin=-100, xmax=100, tB]
\deco{0.151,0.915}{0.174,0.772}{0.758,0.152}{0.822,0.059}{S-R3}{42}
\end{axis}
\end{tikzpicture}
\end{document}
